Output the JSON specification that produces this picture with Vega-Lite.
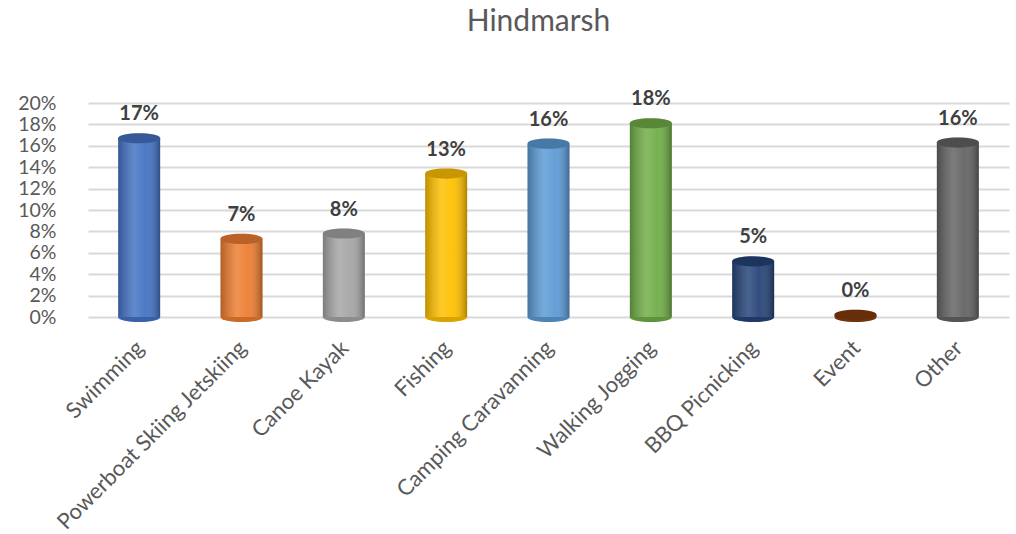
{
  "$schema": "https://vega.github.io/schema/vega-lite/v6.json",
  "autosize": {"type": "none"},
  "width": 921,
  "height": 214,
  "padding": {"left": 88, "top": 103, "right": 7, "bottom": 217},
  "background": "white",
  "config": {
    "font": "Lato",
    "view": {"stroke": null}
  },
  "title": {
    "text": "Hindmarsh",
    "fontSize": 30,
    "fontWeight": "normal",
    "color": "#595959",
    "font": "Lato",
    "anchor": "middle",
    "offset": 52,
    "dx": -10
  },
  "data": {
    "values": [
      {"category": "Swimming", "value": 0.167},
      {"category": "Powerboat Skiing Jetskiing", "value": 0.073},
      {"category": "Canoe Kayak", "value": 0.078},
      {"category": "Fishing", "value": 0.134},
      {"category": "Camping Caravanning", "value": 0.162},
      {"category": "Walking Jogging", "value": 0.181},
      {"category": "BBQ Picnicking", "value": 0.052},
      {"category": "Event", "value": 0.002},
      {"category": "Other", "value": 0.163}
    ]
  },
  "encoding": {
    "x": {
      "field": "category",
      "type": "nominal",
      "sort": null,
      "scale": {"paddingInner": 0.59, "paddingOuter": 0.295},
      "axis": {
        "title": null,
        "labelAngle": -45,
        "labelFontSize": 22,
        "labelColor": "#595959",
        "labelPadding": 20,
        "labelOffset": -6,
        "ticks": false,
        "domain": false,
        "labelLimit": 400
      }
    },
    "y": {
      "field": "value",
      "type": "quantitative",
      "scale": {"domain": [0, 0.2]},
      "axis": {
        "title": null,
        "format": ".0%",
        "values": [0, 0.02, 0.04, 0.06, 0.08, 0.1, 0.12, 0.14, 0.16, 0.18, 0.2],
        "labelOverlap": false,
        "labelFontSize": 19.5,
        "labelColor": "#595959",
        "labelPadding": 32,
        "ticks": false,
        "domain": false,
        "gridColor": "#D9D9D9",
        "gridWidth": 2
      }
    }
  },
  "layer": [
    {
      "mark": {"type": "point", "shape": "M-1,0 C-1,0.32 1,0.32 1,0 Z", "size": 1764, "filled": true, "opacity": 1},
      "encoding": {
        "y": {"datum": 0},
        "color": {
          "field": "category",
          "type": "nominal",
          "legend": null,
          "scale": {
            "domain": ["Swimming", "Powerboat Skiing Jetskiing", "Canoe Kayak", "Fishing", "Camping Caravanning", "Walking Jogging", "BBQ Picnicking", "Event", "Other"],
            "range": ["#4472C4", "#ED7D31", "#A5A5A5", "#FFC000", "#5B9BD5", "#70AD47", "#264478", "#843C0C", "#636363"]
          }
        }
      }
    },
    {
      "mark": {"type": "bar"},
      "encoding": {
        "color": {"field": "category", "type": "nominal", "legend": null}
      }
    },
    {
      "mark": {"type": "bar"},
      "encoding": {
        "color": {
          "value": {
            "gradient": "linear",
            "x1": 0, "x2": 1, "y1": 0, "y2": 0,
            "stops": [
              {"offset": 0, "color": "rgba(0,0,0,0.25)"},
              {"offset": 0.4, "color": "rgba(255,255,255,0.16)"},
              {"offset": 0.65, "color": "rgba(255,255,255,0.05)"},
              {"offset": 1, "color": "rgba(0,0,0,0.32)"}
            ]
          }
        }
      }
    },
    {
      "mark": {"type": "point", "shape": "M-1,0 C-1,0.32 1,0.32 1,0 Z", "size": 1764, "filled": true, "opacity": 1},
      "encoding": {"y": {"datum": 0}, "color": {"value": "rgba(0,0,0,0.15)"}}
    },
    {
      "mark": {"type": "point", "shape": "M-1,0 C-1,-0.32 1,-0.32 1,0 C1,0.32 -1,0.32 -1,0 Z", "size": 1764, "filled": true, "opacity": 1},
      "encoding": {
        "color": {"field": "category", "type": "nominal", "legend": null}
      }
    },
    {
      "mark": {"type": "point", "shape": "M-1,0 C-1,-0.32 1,-0.32 1,0 C1,0.32 -1,0.32 -1,0 Z", "size": 1764, "filled": true, "opacity": 0.22},
      "encoding": {"color": {"value": "black"}}
    },
    {
      "mark": {"type": "text", "dy": -24, "fontSize": 20, "fontWeight": "bold"},
      "encoding": {
        "text": {"field": "value", "type": "quantitative", "format": ".0%"},
        "color": {"value": "#404040"}
      }
    }
  ]
}
